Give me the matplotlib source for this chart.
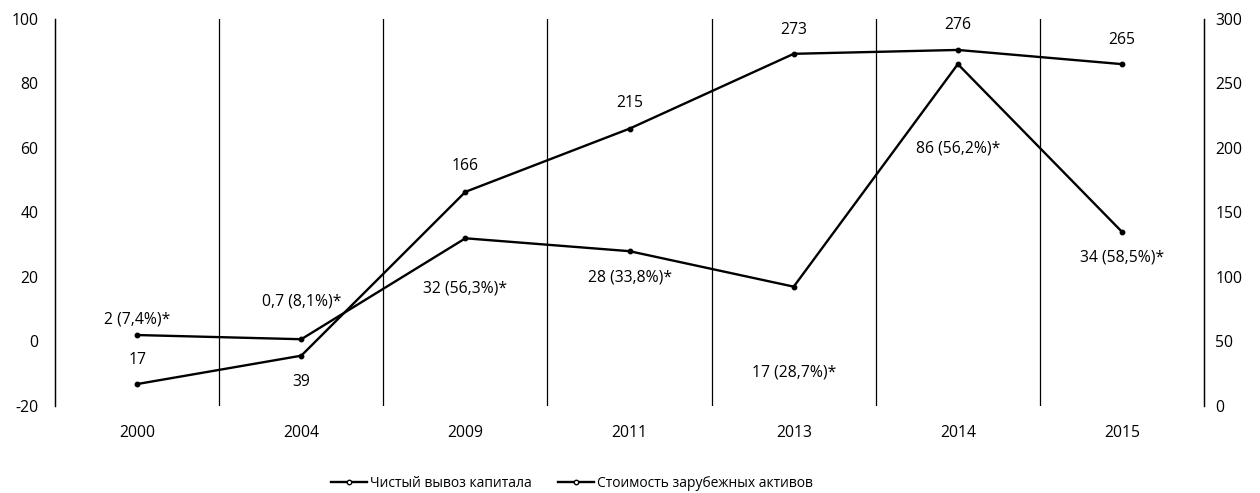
import matplotlib.pyplot as plt

plt.rcParams['font.family'] = ['Open Sans', 'DejaVu Sans']
plt.rcParams['axes.unicode_minus'] = False

years = ['2000', '2004', '2009', '2011', '2013', '2014', '2015']
# net capital outflow, bn $ (left axis) and its share, %
outflow = [2, 0.7, 32, 28, 17, 86, 34]
outflow_share = [7.4, 8.1, 56.3, 33.8, 28.7, 56.2, 58.5]
# value of foreign assets, bn $ (right axis)
assets = [17, 39, 166, 215, 273, 276, 265]

# label offsets in pixels
outflow_dy = [16, 38, -50, -26, -86, -84, -26]
assets_dy = [24, -26, 26, 26, 24, 25, 24]


def fmt(v):
    return f'{v:g}'.replace('.', ',')


fig = plt.figure(figsize=(12.6, 4.93), dpi=100)
ax = fig.add_axes([0.0437, 0.1765, 0.9119, 0.785])
ax2 = ax.twinx()

x = list(range(len(years)))

ax.plot(x, outflow, color='black', lw=1.7, marker='o', ms=3.2,
        mfc='black', mec='black', zorder=3)
ax2.plot(x, assets, color='black', lw=1.7, marker='o', ms=3.2,
         mfc='black', mec='black', zorder=3)

for xi, v, s, dy in zip(x, outflow, outflow_share, outflow_dy):
    ax.annotate(f'{fmt(v)} ({fmt(s)}%)*', (xi, v), xytext=(0, dy),
                textcoords='offset pixels', ha='center', va='center',
                fontsize=11.3)
for xi, v, dy in zip(x, assets, assets_dy):
    ax2.annotate(fmt(v), (xi, v), xytext=(0, dy),
                 textcoords='offset pixels', ha='center', va='center',
                 fontsize=11.3)

# separators between years
for b in range(1, len(years)):
    ax.axvline(b - 0.5, color='black', lw=0.9, zorder=1)

ax.set_xlim(-0.5, len(years) - 0.5)
ax.set_ylim(-20, 100)
ax.set_yticks(range(-20, 101, 20))
ax2.set_ylim(0, 300)
ax2.set_yticks(range(0, 301, 50))
ax.set_xticks(x)
ax.set_xticklabels(years)

for a in (ax, ax2):
    a.spines['top'].set_visible(False)
    a.spines['bottom'].set_visible(False)
    a.spines['left'].set_linewidth(0.9)
    a.spines['right'].set_linewidth(0.9)
    a.tick_params(length=0, labelsize=11.3)
ax.tick_params(axis='y', pad=12)
ax.tick_params(axis='x', pad=14)
ax2.tick_params(axis='y', pad=8)

h1, = ax.plot([], [], color='black', lw=1.7, marker='o', ms=3.2, mfc='white')
h2, = ax.plot([], [], color='black', lw=1.7, marker='o', ms=3.2, mfc='white')
fig.legend([h1, h2], ['Чистый вывоз капитала', 'Стоимость зарубежных активов'],
           loc='center', bbox_to_anchor=(0.454, 0.02), ncol=2, frameon=False,
           fontsize=10, handlelength=2.6, columnspacing=1.9, handletextpad=0.2)

fig.savefig('out.png', dpi=100)
